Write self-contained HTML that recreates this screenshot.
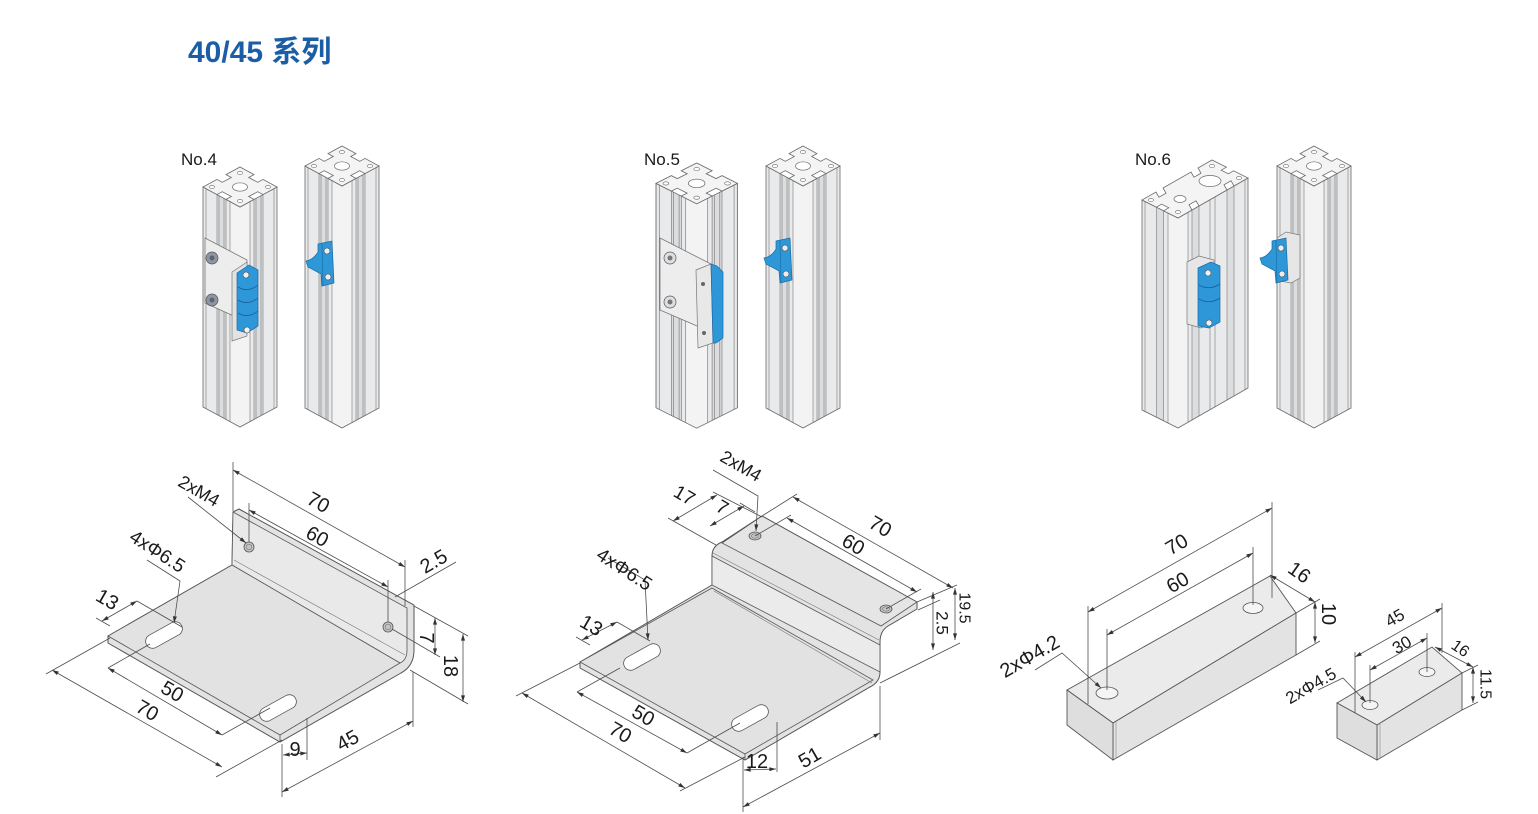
<!DOCTYPE html>
<html><head><meta charset="utf-8"><style>
html,body{margin:0;padding:0;background:#fff;}
svg{display:block;}
.t{font-family:"Liberation Sans","Noto Sans CJK SC",sans-serif;fill:#1a1a1a;}
.dl line,.dl polyline{stroke:#4d4d4d;stroke-width:0.8;fill:none;}
</style></head><body>
<svg width="1538" height="814" viewBox="0 0 1538 814" xmlns="http://www.w3.org/2000/svg">
<defs>
<marker id="a" viewBox="0 0 10 6" refX="10" refY="3" markerWidth="7" markerHeight="4" orient="auto-start-reverse" markerUnits="userSpaceOnUse"><path d="M0,0 L10,3 L0,6 z" fill="#333"/></marker>
<g id="t40">
<polygon points="37,0 51,7.6 45.7,10.5 54.7,15.3 60,12.4 74,20 60,27.6 54.7,24.7 45.7,29.5 51,32.4 37,40 23,32.4 28.3,29.5 19.3,24.7 14,27.6 0,20 14,12.4 19.3,15.3 28.3,10.5 23,7.6" fill="#f4f4f4" stroke="#6a6a6a" stroke-width="0.8"/>
<ellipse cx="37" cy="20" rx="7.5" ry="4.2" fill="#fff" stroke="#6a6a6a" stroke-width="0.7"/>
<g fill="#fff" stroke="#6a6a6a" stroke-width="0.6"><ellipse cx="37" cy="6" rx="2.6" ry="1.6"/><ellipse cx="9" cy="20" rx="2.6" ry="1.6"/><ellipse cx="65" cy="20" rx="2.6" ry="1.6"/><ellipse cx="37" cy="34" rx="2.6" ry="1.6"/></g>
</g>
<g id="b220">
<polygon points="0,20 0,240 37,260 74,240 74,20 37,40" fill="#e9eaeb"/>
<polygon points="27,34.6 37,40 47,34.6 47,254.6 37,260 27,254.6" fill="#f3f3f3"/>
<polygon points="14,27.6 23,32.4 23,252.4 14,247.6" fill="#dcdddf"/>
<polygon points="51,32.4 60,27.6 60,247.6 51,252.4" fill="#dcdddf"/>
<g stroke="#7a7a7a" stroke-width="0.6">
<line x1="3" y1="21.6" x2="3" y2="241.6"/><line x1="14" y1="27.6" x2="14" y2="247.6"/><line x1="16" y1="28.6" x2="16" y2="248.6"/><line x1="21" y1="31.4" x2="21" y2="251.4"/><line x1="23" y1="32.4" x2="23" y2="252.4"/><line x1="27" y1="34.6" x2="27" y2="254.6"/>
<line x1="47" y1="34.6" x2="47" y2="254.6"/><line x1="51" y1="32.4" x2="51" y2="252.4"/><line x1="53" y1="31.4" x2="53" y2="251.4"/><line x1="58" y1="28.6" x2="58" y2="248.6"/><line x1="60" y1="27.6" x2="60" y2="247.6"/><line x1="71" y1="21.6" x2="71" y2="241.6"/>
</g>
<polygon points="0,20 0,240 37,260 74,240 74,20 37,40" fill="none" stroke="#6a6a6a" stroke-width="0.8"/>
</g>
<g id="b242">
<polygon points="0,20 0,262 37,282 74,262 74,20 37,40" fill="#e9eaeb"/>
<polygon points="27,34.6 37,40 47,34.6 47,276.6 37,282 27,276.6" fill="#f3f3f3"/>
<polygon points="14,27.6 23,32.4 23,274.4 14,269.6" fill="#dcdddf"/>
<polygon points="51,32.4 60,27.6 60,269.6 51,274.4" fill="#dcdddf"/>
<g stroke="#7a7a7a" stroke-width="0.6">
<line x1="3" y1="21.6" x2="3" y2="263.6"/><line x1="14" y1="27.6" x2="14" y2="269.6"/><line x1="16" y1="28.6" x2="16" y2="270.6"/><line x1="21" y1="31.4" x2="21" y2="273.4"/><line x1="23" y1="32.4" x2="23" y2="274.4"/><line x1="27" y1="34.6" x2="27" y2="276.6"/>
<line x1="47" y1="34.6" x2="47" y2="276.6"/><line x1="51" y1="32.4" x2="51" y2="274.4"/><line x1="53" y1="31.4" x2="53" y2="273.4"/><line x1="58" y1="28.6" x2="58" y2="270.6"/><line x1="60" y1="27.6" x2="60" y2="269.6"/><line x1="71" y1="21.6" x2="71" y2="263.6"/>
</g>
<polygon points="0,20 0,262 37,282 74,262 74,20 37,40" fill="none" stroke="#6a6a6a" stroke-width="0.8"/>
</g>
<g id="p80">
<polygon points="0,40 0,250 36,268 106,228 106,18 36,58" fill="#e9eaeb"/>
<polygon points="26,53 36,58 46,52.3 46,262.3 36,268 26,263" fill="#f3f3f3"/>
<polygon points="14.4,47.2 21.6,50.8 21.6,260.8 14.4,257.2" fill="#dcdddf"/>
<polygon points="50,50 57,46 57,256 50,260" fill="#dcdddf"/>
<polygon points="85,30 92,26 92,236 85,240" fill="#dcdddf"/>
<g stroke="#7a7a7a" stroke-width="0.6">
<line x1="3" y1="41.5" x2="3" y2="251.5"/><line x1="14.4" y1="47.2" x2="14.4" y2="257.2"/><line x1="21.6" y1="50.8" x2="21.6" y2="260.8"/><line x1="26" y1="53" x2="26" y2="263"/>
<line x1="46" y1="52.3" x2="46" y2="262.3"/><line x1="50" y1="50" x2="50" y2="260"/><line x1="57" y1="46" x2="57" y2="256"/><line x1="68" y1="39.7" x2="68" y2="249.7"/><line x1="73" y1="36.9" x2="73" y2="246.9"/><line x1="85" y1="30" x2="85" y2="240"/><line x1="92" y1="26" x2="92" y2="236"/><line x1="103" y1="19.7" x2="103" y2="229.7"/>
</g>
<polygon points="0,40 0,250 36,268 106,228 106,18 36,58" fill="none" stroke="#6a6a6a" stroke-width="0.8"/>
<polygon points="0,40 14,32 17,37.2 24,33.2 21,28 49,12 52,17.2 59,13.2 56,8 70,0 84.4,7.2 79.2,10.2 86.4,13.8 91.6,10.8 106,18 92,26 89,20.8 82,24.8 85,30 57,46 54,40.8 47,44.8 50,50 36,58 21.6,50.8 26.8,47.8 19.6,44.2 14.4,47.2" fill="#f4f4f4" stroke="#6a6a6a" stroke-width="0.8"/>
<ellipse cx="68" cy="21" rx="11" ry="5.5" fill="#fff" stroke="#6a6a6a" stroke-width="0.7"/>
<ellipse cx="38" cy="39" rx="6" ry="3.5" fill="#fff" stroke="#6a6a6a" stroke-width="0.7"/>
<g fill="#fff" stroke="#6a6a6a" stroke-width="0.6"><ellipse cx="9" cy="40" rx="2.6" ry="1.6"/><ellipse cx="70" cy="6" rx="2.6" ry="1.6"/><ellipse cx="97" cy="18" rx="2.6" ry="1.6"/><ellipse cx="36" cy="52" rx="2.6" ry="1.6"/></g>
</g>
<g id="bb">
<path d="M13,4 L27,1 L29,43 L17,46 L16,34 L3,27 L1,21 Q8,20 13,12 Z" fill="#2d97d8" stroke="#1a6aa6" stroke-width="0.7"/>
<line x1="17" y1="4" x2="18" y2="45" stroke="#1a6aa6" stroke-width="0.6"/>
<circle cx="22" cy="11" r="3" fill="#e8eef3" stroke="#555" stroke-width="0.6"/>
<circle cx="23" cy="37" r="3" fill="#e8eef3" stroke="#555" stroke-width="0.6"/>
</g>
</defs>

<!-- Title -->
<text x="188" y="62" class="t" style="font-size:30px;font-weight:bold;fill:#1c5ea6;">40/45 系列</text>

<!-- Labels -->
<text x="181" y="165" class="t" style="font-size:17px;">No.4</text>
<text x="644" y="165" class="t" style="font-size:17px;">No.5</text>
<text x="1135" y="165" class="t" style="font-size:17px;">No.6</text>

<!-- Profiles -->
<g transform="translate(203,167)"><use href="#b220"/><use href="#t40"/></g>
<g transform="translate(305,146)"><use href="#b242"/><use href="#t40"/></g>
<g transform="translate(656,163) scale(1.1,1.02)"><use href="#b220"/><use href="#t40"/></g>
<g transform="translate(766,146)"><use href="#b242"/><use href="#t40"/></g>
<g transform="translate(1142,160)"><use href="#p80"/></g>
<g transform="translate(1277,146)"><use href="#b242"/><use href="#t40"/></g>

<!-- No.4 assembly -->
<polygon points="205,238 247,260 247,322 205,303" fill="#ededed" stroke="#777" stroke-width="0.8"/>
<circle cx="212" cy="258" r="6" fill="#8e96a3" stroke="#555" stroke-width="0.7"/><circle cx="212" cy="258" r="2.5" fill="#5d6570"/>
<circle cx="212" cy="300" r="6" fill="#8e96a3" stroke="#555" stroke-width="0.7"/><circle cx="212" cy="300" r="2.5" fill="#5d6570"/>
<polygon points="232,272 247,262 247,336 232,341" fill="#e2e2e2" stroke="#777" stroke-width="0.7"/>
<polygon points="237,273 249,265 258,270 258,326 247,333 237,330" fill="#2d97d8" stroke="#1a6aa6" stroke-width="0.7"/>
<path d="M238,287 Q248,293 258,285 M238,300 Q248,306 258,298 M238,313 Q248,319 258,311" stroke="#1a5f96" stroke-width="0.8" fill="none"/>
<circle cx="246" cy="275" r="3" fill="#eef2f5" stroke="#555" stroke-width="0.6"/>
<circle cx="247" cy="330" r="3" fill="#eef2f5" stroke="#555" stroke-width="0.6"/>
<use href="#bb" transform="translate(305,240)"/>

<!-- No.5 assembly -->
<polygon points="660,238 711,264 711,332 660,310" fill="#ededed" stroke="#777" stroke-width="0.8"/>
<circle cx="670" cy="258" r="6" fill="#dcdfe3" stroke="#555" stroke-width="0.7"/><circle cx="670" cy="258" r="2.5" fill="#777"/>
<circle cx="670" cy="302" r="6" fill="#dcdfe3" stroke="#555" stroke-width="0.7"/><circle cx="670" cy="302" r="2.5" fill="#777"/>
<polygon points="696,270 711,264 713,343 698,348" fill="#e8e8e8" stroke="#777" stroke-width="0.7"/>
<circle cx="703" cy="284" r="2" fill="#666"/><circle cx="704" cy="333" r="2" fill="#666"/>
<polygon points="711,264 717,266 723,272 723,338 716,343 713,343" fill="#2d97d8" stroke="#1a6aa6" stroke-width="0.7"/>
<use href="#bb" transform="translate(763,237)"/>

<!-- No.6 assembly -->
<polygon points="1187,262 1199,256 1214,260 1214,322 1201,328 1187,324" fill="#e6e6e6" stroke="#777" stroke-width="0.7"/>
<polygon points="1198,268 1211,262 1220,266 1220,322 1209,328 1198,326" fill="#2d97d8" stroke="#1a6aa6" stroke-width="0.7"/>
<path d="M1199,285 Q1209,291 1220,284 M1199,299 Q1209,305 1220,298" stroke="#1a5f96" stroke-width="0.8" fill="none"/>
<circle cx="1208" cy="273" r="3" fill="#eef2f5" stroke="#555" stroke-width="0.6"/>
<circle cx="1209" cy="323" r="3" fill="#eef2f5" stroke="#555" stroke-width="0.6"/>
<polygon points="1277,238 1286,232 1300,235 1300,278 1291,283 1280,281" fill="#e6e6e6" stroke="#777" stroke-width="0.7"/>
<use href="#bb" transform="translate(1259,237)"/>

<!-- No.4 L bracket -->
<path d="M233,512 L239,509 L414,605 L414,650 Q414,666 401,673 L280,742 L108,643 L108,636 L232,565 Z" fill="#e3e3e3" stroke="#555" stroke-width="1"/>
<path d="M233,512 L407,608 L407,650 Q407,660 400,663 L232,565 Z" fill="#e9e9e9" stroke="#555" stroke-width="0.8"/>
<polygon points="232,565 108,636 280,735 400,663" fill="#e2e2e2" stroke="#555" stroke-width="0.8"/>
<line x1="234" y1="560" x2="405" y2="655" stroke="#777" stroke-width="0.6"/>
<line x1="280" y1="735" x2="280" y2="742" stroke="#555" stroke-width="0.8"/>
<g transform="rotate(-29 164 635)"><rect x="144" y="628" width="40" height="14" rx="7" fill="#fff" stroke="#555" stroke-width="0.8"/></g>
<g transform="rotate(-29 278 708)"><rect x="258" y="701" width="40" height="14" rx="7" fill="#fff" stroke="#555" stroke-width="0.8"/></g>
<circle cx="249" cy="547" r="5" fill="#c4c4c4" stroke="#555" stroke-width="0.8"/><circle cx="249" cy="547" r="2.8" fill="none" stroke="#777" stroke-width="0.6"/>
<circle cx="388" cy="627" r="5" fill="#c4c4c4" stroke="#555" stroke-width="0.8"/><circle cx="388" cy="627" r="2.8" fill="none" stroke="#777" stroke-width="0.6"/>

<g class="dl">
<line x1="233" y1="470" x2="405" y2="567" marker-start="url(#a)" marker-end="url(#a)"/>
<line x1="233" y1="462" x2="233" y2="511"/><line x1="405" y1="560" x2="405" y2="606"/>
<line x1="249" y1="510" x2="388" y2="587" marker-start="url(#a)" marker-end="url(#a)"/>
<line x1="249" y1="503" x2="249" y2="542"/><line x1="388" y1="580" x2="388" y2="622"/>
<line x1="188" y1="497" x2="246" y2="543" marker-end="url(#a)"/>
<polyline points="147,560 180,581 174,623" marker-end="url(#a)"/>
<line x1="102" y1="621" x2="137" y2="601" marker-start="url(#a)" marker-end="url(#a)"/>
<line x1="137" y1="601" x2="182" y2="627"/><line x1="96" y1="618" x2="110" y2="626"/>
<line x1="108" y1="668" x2="222" y2="735" marker-start="url(#a)" marker-end="url(#a)"/>
<line x1="108" y1="668" x2="150" y2="644"/><line x1="222" y1="735" x2="270" y2="708"/>
<line x1="52" y1="670" x2="222" y2="767" marker-start="url(#a)" marker-end="url(#a)"/>
<line x1="110" y1="638" x2="46" y2="674"/><line x1="282" y1="740" x2="216" y2="777"/>
<line x1="282" y1="744" x2="282" y2="797"/><line x1="307" y1="718" x2="307" y2="760"/>
<line x1="283" y1="755" x2="307" y2="753" marker-start="url(#a)" marker-end="url(#a)"/>
<line x1="282" y1="792" x2="413" y2="721" marker-start="url(#a)" marker-end="url(#a)"/>
<line x1="413" y1="672" x2="413" y2="727"/>
<line x1="456" y1="562" x2="395" y2="597"/>
<line x1="435" y1="618" x2="435" y2="655" marker-start="url(#a)" marker-end="url(#a)"/>
<line x1="463" y1="634" x2="463" y2="702" marker-start="url(#a)" marker-end="url(#a)"/>
<line x1="414" y1="606" x2="468" y2="636"/><line x1="392" y1="629" x2="440" y2="657"/><line x1="410" y1="670" x2="468" y2="704"/>
</g>
<g class="t" style="font-size:20px;" text-anchor="middle" dominant-baseline="central">
<text x="318" y="503" transform="rotate(29 318 503)">70</text>
<text x="317" y="537" transform="rotate(29 317 537)">60</text>
<text x="199" y="491" transform="rotate(30 199 491)" style="font-size:18px">2xM4</text>
<text x="157" y="552" transform="rotate(33 157 552)" style="font-size:19px">4xΦ6.5</text>
<text x="107" y="600" transform="rotate(30 107 600)">13</text>
<text x="172" y="692" transform="rotate(30 172 692)">50</text>
<text x="147" y="711" transform="rotate(30 147 711)">70</text>
<text x="295" y="750">9</text>
<text x="348" y="741" transform="rotate(-29 348 741)">45</text>
<text x="434" y="562" transform="rotate(-30 434 562)">2.5</text>
<text x="426" y="638" transform="rotate(90 426 638)">7</text>
<text x="450" y="666" transform="rotate(90 450 666)">18</text>
</g>

<!-- No.5 Z bracket -->
<path d="M580,662 L712,585 L712,556 Q712,546 722,542 L762,516 L917,602 L917,609 L888,626 Q880,631 880,642 L880,672 Q880,682 870,687 L745,760 L580,668 Z" fill="#e3e3e3" stroke="#555" stroke-width="1"/>
<polygon points="722,543 762,516 917,602 881,626" fill="#e5e5e5" stroke="#555" stroke-width="0.8"/>
<polygon points="712,556 880,645 880,672 712,585" fill="#ebebeb" stroke="#555" stroke-width="0.8"/>
<line x1="713" y1="553" x2="879" y2="640" stroke="#777" stroke-width="0.6"/>
<polygon points="712,588 873,680 745,754 580,662" fill="#e2e2e2" stroke="#555" stroke-width="0.8"/>
<line x1="714" y1="591" x2="872" y2="683" stroke="#777" stroke-width="0.6"/>
<line x1="745" y1="754" x2="745" y2="760" stroke="#555" stroke-width="0.8"/>
<g transform="rotate(-29 642 657)"><rect x="622" y="650" width="40" height="14" rx="7" fill="#fff" stroke="#555" stroke-width="0.8"/></g>
<g transform="rotate(-29 750 718)"><rect x="730" y="711" width="40" height="14" rx="7" fill="#fff" stroke="#555" stroke-width="0.8"/></g>
<ellipse cx="755" cy="536" rx="6" ry="4" fill="#c4c4c4" stroke="#555" stroke-width="0.8"/><ellipse cx="755" cy="536" rx="3.5" ry="2.2" fill="none" stroke="#777" stroke-width="0.6"/>
<ellipse cx="886" cy="609" rx="6" ry="4" fill="#c4c4c4" stroke="#555" stroke-width="0.8"/><ellipse cx="886" cy="609" rx="3.5" ry="2.2" fill="none" stroke="#777" stroke-width="0.6"/>

<g class="dl">
<line x1="793" y1="497" x2="953" y2="588" marker-start="url(#a)" marker-end="url(#a)"/>
<line x1="762" y1="516" x2="797" y2="494"/><line x1="917" y1="602" x2="957" y2="585"/>
<line x1="787" y1="518" x2="917" y2="592" marker-start="url(#a)" marker-end="url(#a)"/>
<line x1="755" y1="536" x2="791" y2="515"/><line x1="886" y1="609" x2="921" y2="589"/>
<polyline points="713,470 758,496 756,531" marker-end="url(#a)"/>
<line x1="673" y1="521" x2="717" y2="495" marker-start="url(#a)" marker-end="url(#a)"/>
<line x1="710" y1="526" x2="744" y2="506" marker-start="url(#a)" marker-end="url(#a)"/>
<line x1="668" y1="518" x2="716" y2="545"/><line x1="713" y1="492" x2="762" y2="517"/><line x1="740" y1="503" x2="755" y2="512"/>
<line x1="582" y1="640" x2="617" y2="622" marker-start="url(#a)" marker-end="url(#a)"/>
<line x1="617" y1="622" x2="650" y2="641"/><line x1="576" y1="637" x2="590" y2="645"/>
<polyline points="608,558 645,580 648,640" marker-end="url(#a)"/>
<line x1="577" y1="692" x2="687" y2="753" marker-start="url(#a)" marker-end="url(#a)"/>
<line x1="577" y1="692" x2="620" y2="668"/><line x1="687" y1="753" x2="740" y2="723"/>
<line x1="522" y1="693" x2="685" y2="788" marker-start="url(#a)" marker-end="url(#a)"/>
<line x1="580" y1="663" x2="516" y2="696"/><line x1="745" y1="757" x2="680" y2="791"/>
<line x1="743" y1="757" x2="743" y2="812"/><line x1="777" y1="722" x2="777" y2="772"/>
<line x1="744" y1="770" x2="776" y2="769" marker-start="url(#a)" marker-end="url(#a)"/>
<line x1="743" y1="807" x2="880" y2="733" marker-start="url(#a)" marker-end="url(#a)"/>
<line x1="880" y1="686" x2="880" y2="740"/>
<line x1="955" y1="588" x2="955" y2="640" marker-start="url(#a)" marker-end="url(#a)"/>
<line x1="933" y1="592" x2="933" y2="650" marker-start="url(#a)" marker-end="url(#a)"/>
<line x1="918" y1="610" x2="940" y2="600"/><line x1="880" y1="683" x2="960" y2="643"/>
</g>
<g class="t" style="font-size:20px;" text-anchor="middle" dominant-baseline="central">
<text x="880" y="527" transform="rotate(30 880 527)">70</text>
<text x="853" y="545" transform="rotate(30 853 545)">60</text>
<text x="741" y="466" transform="rotate(30 741 466)" style="font-size:18px">2xM4</text>
<text x="684" y="496" transform="rotate(30 684 496)" style="font-size:19px">17</text>
<text x="722" y="508" transform="rotate(30 722 508)" style="font-size:19px">7</text>
<text x="591" y="626" transform="rotate(30 591 626)">13</text>
<text x="624" y="570" transform="rotate(33 624 570)" style="font-size:19px">4xΦ6.5</text>
<text x="643" y="716" transform="rotate(30 643 716)">50</text>
<text x="620" y="733" transform="rotate(30 620 733)">70</text>
<text x="757" y="762">12</text>
<text x="810" y="758" transform="rotate(-30 810 758)">51</text>
<text x="964" y="608" transform="rotate(90 964 608)" style="font-size:16px">19.5</text>
<text x="942" y="623" transform="rotate(90 942 623)" style="font-size:17px">2.5</text>
</g>

<!-- Big block -->
<polygon points="1067,690 1270,576 1296,613 1113,723" fill="#ebebeb" stroke="#555" stroke-width="0.9"/>
<polygon points="1113,723 1296,613 1296,655 1113,760" fill="#e3e3e3" stroke="#555" stroke-width="0.9"/>
<polygon points="1067,690 1113,723 1113,760 1067,725" fill="#dedede" stroke="#555" stroke-width="0.9"/>
<line x1="1116" y1="722" x2="1116" y2="759" stroke="#888" stroke-width="0.6"/>
<ellipse cx="1107" cy="693" rx="11" ry="6" fill="#f5f5f5" stroke="#555" stroke-width="0.8"/>
<ellipse cx="1253" cy="608" rx="10" ry="5.5" fill="#f5f5f5" stroke="#555" stroke-width="0.8"/>
<!-- Small block -->
<polygon points="1337,703 1432,647 1462,673 1377,725" fill="#ebebeb" stroke="#555" stroke-width="0.9"/>
<polygon points="1377,725 1462,673 1462,710 1377,760" fill="#e3e3e3" stroke="#555" stroke-width="0.9"/>
<polygon points="1337,703 1377,725 1377,760 1337,738" fill="#dedede" stroke="#555" stroke-width="0.9"/>
<line x1="1380" y1="724" x2="1380" y2="759" stroke="#888" stroke-width="0.6"/>
<ellipse cx="1370" cy="705" rx="8" ry="4.5" fill="#f5f5f5" stroke="#555" stroke-width="0.8"/>
<ellipse cx="1427" cy="672" rx="8" ry="4.5" fill="#f5f5f5" stroke="#555" stroke-width="0.8"/>

<g class="dl">
<line x1="1088" y1="612" x2="1272" y2="508" marker-start="url(#a)" marker-end="url(#a)"/>
<line x1="1088" y1="606" x2="1088" y2="704"/><line x1="1272" y1="502" x2="1272" y2="598"/>
<line x1="1107" y1="635" x2="1253" y2="553" marker-start="url(#a)" marker-end="url(#a)"/>
<line x1="1107" y1="629" x2="1107" y2="690"/><line x1="1253" y1="547" x2="1253" y2="605"/>
<line x1="1270" y1="575" x2="1315" y2="602" marker-start="url(#a)" marker-end="url(#a)"/>
<line x1="1315" y1="602" x2="1315" y2="643" marker-start="url(#a)" marker-end="url(#a)"/>
<line x1="1296" y1="613" x2="1320" y2="599"/><line x1="1296" y1="655" x2="1320" y2="641"/>
<polyline points="1035,670 1062,653 1101,688" marker-end="url(#a)"/>
<line x1="1355" y1="657" x2="1442" y2="608" marker-start="url(#a)" marker-end="url(#a)"/>
<line x1="1355" y1="652" x2="1355" y2="713"/><line x1="1442" y1="603" x2="1442" y2="653"/>
<line x1="1370" y1="670" x2="1427" y2="638" marker-start="url(#a)" marker-end="url(#a)"/>
<line x1="1370" y1="665" x2="1370" y2="703"/><line x1="1427" y1="633" x2="1427" y2="672"/>
<line x1="1435" y1="647" x2="1473" y2="667" marker-start="url(#a)" marker-end="url(#a)"/>
<line x1="1473" y1="667" x2="1473" y2="703" marker-start="url(#a)" marker-end="url(#a)"/>
<line x1="1462" y1="673" x2="1478" y2="665"/><line x1="1462" y1="710" x2="1478" y2="702"/>
<polyline points="1318,690 1343,678 1366,702" marker-end="url(#a)"/>
</g>
<g class="t" style="font-size:20px;" text-anchor="middle" dominant-baseline="central">
<text x="1177" y="545" transform="rotate(-30 1177 545)">70</text>
<text x="1178" y="583" transform="rotate(-30 1178 583)">60</text>
<text x="1299" y="573" transform="rotate(35 1299 573)">16</text>
<text x="1328" y="614" transform="rotate(90 1328 614)">10</text>
<text x="1030" y="657" transform="rotate(-30 1030 657)">2xΦ4.2</text>
<text x="1395" y="618" transform="rotate(-30 1395 618)" style="font-size:17px">45</text>
<text x="1402" y="645" transform="rotate(-30 1402 645)" style="font-size:17px">30</text>
<text x="1460" y="649" transform="rotate(35 1460 649)" style="font-size:16px">16</text>
<text x="1485" y="684" transform="rotate(90 1485 684)" style="font-size:16px">11.5</text>
<text x="1311" y="686" transform="rotate(-30 1311 686)" style="font-size:17px">2xΦ4.5</text>
</g>
</svg>
</body></html>
